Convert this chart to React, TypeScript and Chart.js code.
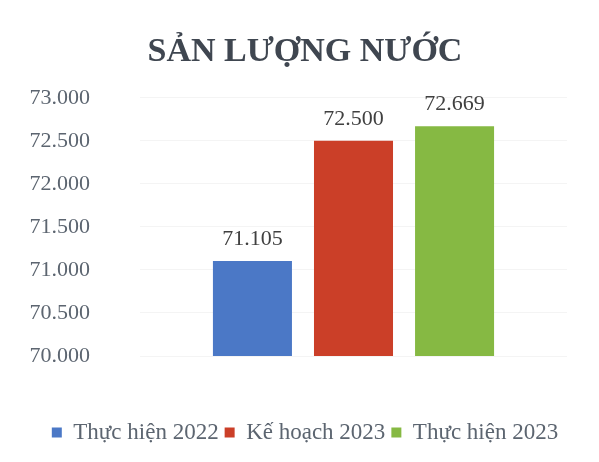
import React, { useEffect, useRef } from "react";
import { Chart, registerables } from "chart.js";

Chart.register(...registerables);

const categories = [""];
const seriesNames = ["Thực hiện 2022", "Kế hoạch 2023", "Thực hiện 2023"];
const seriesValues = [71105, 72500, 72669];
const seriesColors = ["#4b78c6", "#cb3f28", "#86b943"];
const yMin = 70000;
const yMax = 73000;
const yStep = 500;

const fmt = (v: number) => new Intl.NumberFormat("de-DE", { minimumFractionDigits: 0 }).format(v);

const dataLabelPlugin = {
  id: "dataLabels",
  afterLayout(chart: any) {
    // let the y-axis labels use the space left of the layout padding
    const y = chart.scales.y;
    if (y) y.left = 0;
  },
  afterDatasetsDraw(chart: any) {
    const ctx = chart.ctx;
    ctx.save();
    ctx.font = "22px 'Liberation Serif'";
    ctx.fillStyle = "#404040";
    ctx.textAlign = "center";
    ctx.textBaseline = "alphabetic";
    chart.data.datasets.forEach((ds: any, i: number) => {
      const meta = chart.getDatasetMeta(i);
      meta.data.forEach((bar: any, j: number) => {
        const v = ds.data[j];
        if (v == null) return;
        ctx.fillText(fmt(v), bar.x, bar.y - 16);
      });
    });
    ctx.restore();
  },
};

export default function App() {
  const ref = useRef<HTMLCanvasElement>(null);
  useEffect(() => {
    if (!ref.current) return;
    const chart = new Chart(ref.current, {
      type: "bar",
      data: {
        labels: categories,
        datasets: seriesNames.map((name, i) => ({
          label: name,
          data: [seriesValues[i]],
          backgroundColor: seriesColors[i],
          borderWidth: 0,
          categoryPercentage: 0.71,
          barPercentage: 0.782,
        })),
      },
      options: {
        animation: false,
        responsive: false,
        maintainAspectRatio: false,
        layout: { padding: { left: 35, right: 24, top: 0, bottom: 0 } },
        plugins: {
          tooltip: { enabled: false },
          title: {
            display: true,
            text: "SẢN LƯỢNG NƯỚC",
            color: "#3f4650",
            font: { family: "'Liberation Serif'", size: 34, weight: "bold" },
            padding: { top: 24, bottom: 25 },
          },
          legend: {
            position: "bottom",
            labels: {
              color: "#5c6570",
              font: { family: "'Liberation Serif'", size: 23 },
              boxWidth: 10,
              boxHeight: 10,
              padding: 6,
            },
          },
        },
        scales: {
          x: {
            ticks: { display: false },
            grid: { display: false },
            border: { display: false },
            afterFit: (s: any) => {
              s.height = 59;
            },
          },
          y: {
            min: yMin,
            max: yMax,
            ticks: {
              stepSize: yStep,
              color: "#5c6570",
              font: { family: "'Liberation Serif'", size: 22 },
              padding: 50,
              callback: (v: any) => fmt(Number(v)),
            },
            grid: { color: "#f4f4f4", drawTicks: false },
            border: { display: false },
            afterFit: (s: any) => {
              s.width = 97;
            },
          },
        },
      },
      plugins: [dataLabelPlugin],
    });
    return () => chart.destroy();
  }, []);
  return <canvas ref={ref} width={583} height={446} />;
}
